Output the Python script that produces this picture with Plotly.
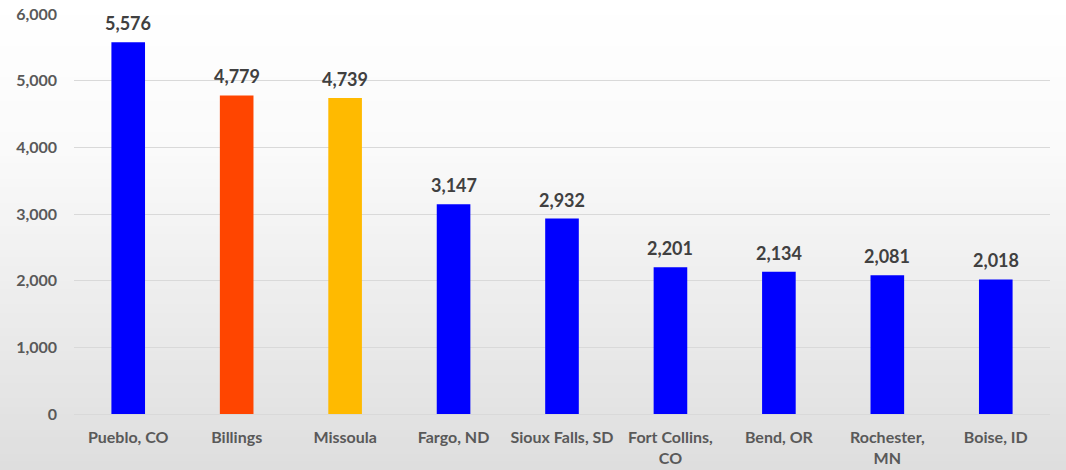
import plotly.graph_objects as go

cities = ["Pueblo, CO", "Billings", "Missoula", "Fargo, ND", "Sioux Falls, SD",
          "Fort Collins,<br>CO", "Bend, OR", "Rochester,<br>MN", "Boise, ID"]
values = [5576, 4779, 4739, 3147, 2932, 2201, 2134, 2081, 2018]
colors = ["#0000FF", "#FF4500", "#FFBA00", "#0000FF", "#0000FF",
          "#0000FF", "#0000FF", "#0000FF", "#0000FF"]
y_ticks = [0, 1000, 2000, 3000, 4000, 5000, 6000]

W, H = 1066, 470
ml, mr, mt, mb = 74, 16, 14, 56
pw, ph = W - ml - mr, H - mt - mb

fig = go.Figure(go.Bar(
    x=cities, y=values, marker=dict(color=colors, line=dict(width=0)),
    cliponaxis=False,
))

# value labels above bars
annotations = [
    dict(x=c, y=v, text=f"{v:,}", showarrow=False, xref="x", yref="y",
         yanchor="bottom", yshift=6,
         font=dict(family="Lato", size=18, color="#404040", weight="bold"))
    for c, v in zip(cities, values)
]

# background vertical gradient (style only)
shapes = []
n = 60
def gray_at(py):
    if py < 150:
        g = 255 - (py / 150) * 5
    else:
        g = 250 - (py - 150) / (H - 150) * 28
    return int(round(g))
for i in range(n):
    y0p = H * i / n
    y1p = H * (i + 1) / n
    g = gray_at((y0p + y1p) / 2)
    shapes.append(dict(
        type="rect", xref="paper", yref="paper", layer="below",
        x0=-ml / pw, x1=1 + mr / pw,
        y0=(H - mb - y1p) / ph, y1=(H - mb - y0p) / ph + 0.002,
        fillcolor=f"rgb({g},{g},{g})", line=dict(width=0),
    ))

fig.update_layout(
    width=W, height=H,
    margin=dict(l=ml, r=mr, t=mt, b=mb, autoexpand=False),
    paper_bgcolor="white", plot_bgcolor="rgba(0,0,0,0)",
    shapes=shapes,
    annotations=annotations,
    bargap=0.69,
    showlegend=False,
    font=dict(family="Lato", color="#595959"),
    xaxis=dict(showgrid=False, showline=False, ticks="", automargin=False,
               tickfont=dict(family="Lato", size=16, color="#595959", weight="bold"),
               ticklabelstandoff=12),
    yaxis=dict(range=[0, 6000], tickvals=y_ticks, tickformat=",", automargin=False,
               showgrid=True, gridcolor="#d9d9d9", gridwidth=1,
               zeroline=True, zerolinecolor="#d9d9d9", zerolinewidth=1,
               showline=False, ticks="",
               tickfont=dict(family="Lato", size=16, color="#595959", weight="bold"),
               ticklabelstandoff=16),
)

fig.write_html("out.html")
